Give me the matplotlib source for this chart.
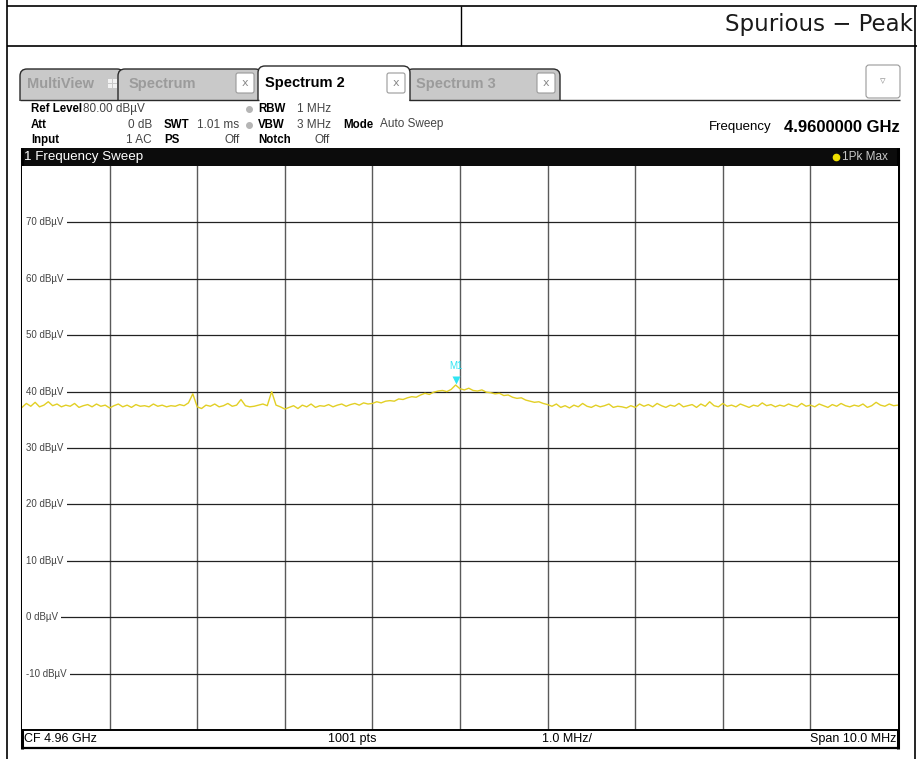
"""
Spurious - Peak: spectrum analyzer screenshot (Spectrum 2, 1 Frequency Sweep).
Trace values read off the screen capture, 0.05 MHz steps across the 10 MHz span.
"""
import numpy as np
import matplotlib
matplotlib.use("Agg")
import matplotlib.pyplot as plt
from matplotlib.patches import Rectangle, FancyBboxPatch

W, H = 917, 759

CF_GHZ = 4.96
SPAN_MHZ = 10.0
REF_LEVEL = 80
Y_BOTTOM = -20
Y_LABELS = [70, 60, 50, 40, 30, 20, 10, 0, -10]

# trace level in dBuV, one row per 1 MHz division (20 points each), plus final point
TRACE_DB = [
    37.2, 37.9, 37.4, 38.1, 37.3, 37.6, 38.2, 37.5, 37.8, 37.3, 37.6, 37.4, 37.9, 37.2, 37.5, 37.7, 37.3, 37.8, 37.4, 37.6,
    37.1, 37.5, 37.8, 37.3, 37.6, 37.2, 37.7, 37.4, 37.5, 37.3, 37.8, 37.4, 37.6, 37.3, 37.5, 37.4, 37.7, 37.5, 38.0, 39.6,
    37.3, 37.0, 37.6, 37.4, 37.8, 37.3, 37.5, 37.9, 37.4, 37.6, 38.6, 37.5, 37.3, 37.4, 37.6, 37.8, 37.5, 40.0, 37.6, 37.3,
    36.9, 37.2, 37.5, 37.0, 37.6, 37.3, 37.8, 37.2, 37.5, 37.4, 37.7, 37.3, 37.6, 37.8, 37.4, 37.7, 37.9, 37.6, 38.0, 37.8,
    37.9, 38.2, 38.0, 38.3, 38.4, 38.3, 38.7, 38.6, 38.9, 39.1, 39.0, 39.4, 39.7, 39.5, 39.9, 40.1, 40.2, 40.0, 40.4, 41.17,
    40.5, 40.3, 40.6, 40.2, 40.1, 40.3, 39.9, 39.8, 39.6, 39.7, 39.3, 39.4, 39.0, 38.8, 38.9, 38.5, 38.3, 38.1, 38.2, 37.9,
    37.7, 37.4, 37.8, 37.2, 37.5, 37.1, 37.6, 37.3, 37.9, 37.4, 37.2, 37.6, 37.3, 37.5, 37.8, 37.2, 37.4, 37.3, 37.1, 37.5,
    37.2, 37.8, 37.4, 37.7, 37.3, 37.9, 37.5, 37.2, 37.6, 37.4, 37.9, 37.3, 37.5, 37.7, 37.2, 37.8, 37.4, 38.2, 37.5, 37.3,
    37.9, 37.4, 37.6, 37.3, 37.8, 37.5, 37.2, 37.6, 37.4, 38.0, 37.5, 37.7, 37.3, 37.6, 37.4, 37.8, 37.5, 37.3, 37.9, 37.4,
    37.6, 37.3, 37.8, 37.5, 37.2, 37.7, 37.4, 37.9, 37.5, 37.3, 37.6, 37.4, 37.8, 37.2, 37.5, 38.1, 37.6, 37.4, 37.8, 37.5,
    37.6,
]

MARKER_LABEL = "M1[1]"
MARKER_LEVEL = "41.17 dBµV"
MARKER_FREQ = "4.95993007 GHz"

FONT = "Liberation Sans"
CYAN = "#30e4f2"
YELLOW = "#e2cf25"

fig = plt.figure(figsize=(W / 100, H / 100), dpi=100)

# background axes in pixel coordinates
bg = fig.add_axes([0, 0, 1, 1])
bg.set_xlim(0, W)
bg.set_ylim(H, 0)
bg.axis("off")


def line(x0, y0, x1, y1, color="black", lw=1.0, z=2):
    bg.plot([x0, x1], [y0, y1], color=color, lw=lw, zorder=z, solid_capstyle="butt")


def txt(x, y, s, size=8.5, color="black", weight="normal", ha="left", z=6, **kw):
    bg.text(x, y, s, fontsize=size, color=color, fontweight=weight, ha=ha,
            va="center", family=FONT, zorder=z, **kw)


def label(x, y, s):
    txt(x, y, s, size=8.3, weight="bold", z=5)


def value(x, y, s, ha="left"):
    txt(x, y, s, size=8.5, color="#444444", ha=ha, z=5)


# page table frame
line(7, 0, 7, H, lw=1.2)
line(7, 6, W, 6, lw=1.2)
line(7, 46, W, 46, lw=1.2)
line(461, 6, 461, 46, lw=1.0)
line(915, 6, 915, H, lw=1.2)
bg.text(913, 25, "Spurious − Peak", fontsize=16.5, family="DejaVu Sans",
        ha="right", va="center", color="#1a1a1a")

# tabs
def tab(x0, x1, top, fill, z):
    bg.add_patch(FancyBboxPatch((x0, top), x1 - x0, 112 - top,
                                boxstyle="round,pad=0,rounding_size=7",
                                facecolor=fill, edgecolor="#2a2a2a", lw=1.0, zorder=z))


def close_box(x, z):
    bg.add_patch(FancyBboxPatch((x, 73), 18, 20, boxstyle="round,pad=0,rounding_size=2",
                                facecolor="white", edgecolor="#9a9a9a", lw=0.8, zorder=z))
    bg.text(x + 9, 83.5, "x", fontsize=8, color="#8a8a8a", ha="center", va="center",
            family="DejaVu Sans", zorder=z + 0.1)


tab(20, 124, 69, "#c9c9c9", 3)
tab(118, 262, 69, "#c9c9c9", 3.2)
tab(406, 560, 69, "#c9c9c9", 3.2)
tab(258, 410, 66, "white", 3.6)
bg.add_patch(Rectangle((10, 100.5), 895, 47, facecolor="white", edgecolor="none", zorder=3.8))
line(20, 100, 259, 100, color="#2a2a2a", lw=1.0, z=3.9)
line(409, 100, 900, 100, color="#2a2a2a", lw=1.0, z=3.9)

txt(27, 84, "MultiView", size=10.5, color="#9b9b9b", weight="bold", z=4)
for dx in (0, 5):
    for dy in (0, 5):
        bg.add_patch(Rectangle((108 + dx, 79 + dy), 3.5, 3.5, facecolor="#f2f2f2",
                               edgecolor="none", zorder=4))
txt(129, 84, "Spectrum", size=10.5, color="#9b9b9b", weight="bold", z=4)
close_box(236, 4)
txt(265, 83, "Spectrum 2", size=10.5, color="black", weight="bold", z=4)
close_box(387, 4)
txt(416, 84, "Spectrum 3", size=10.5, color="#9b9b9b", weight="bold", z=4)
close_box(537, 4)

bg.add_patch(FancyBboxPatch((866, 65), 34, 33, boxstyle="round,pad=0,rounding_size=3",
                            facecolor="white", edgecolor="#9a9a9a", lw=0.8, zorder=4))
bg.text(883, 81, "▿", fontsize=8, color="#9a9a9a", ha="center", va="center",
        family="DejaVu Sans", zorder=4.1)

# settings panel
ROW1, ROW2, ROW3 = 109, 124.5, 140
label(31, ROW1, "Ref Level")
value(83, ROW1, f"{REF_LEVEL:.2f} dBµV")
label(31, ROW2, "Att")
value(152, ROW2, "0 dB", ha="right")
label(31, ROW3, "Input")
value(152, ROW3, "1 AC", ha="right")
label(164, ROW2, "SWT")
value(197, ROW2, "1.01 ms")
label(164, ROW3, "PS")
value(240, ROW3, "Off", ha="right")
for yy in (ROW1, ROW2):
    bg.plot(249, yy, "o", ms=4, color="#b5b5b5", zorder=5)
label(258, ROW1, "RBW")
value(297, ROW1, "1 MHz")
label(258, ROW2, "VBW")
value(297, ROW2, "3 MHz")
label(258, ROW3, "Notch")
value(330, ROW3, "Off", ha="right")
label(343, ROW2, "Mode")
value(380, ROW2, "Auto Sweep")
txt(772, 127, "Frequency", size=9.5, ha="right", z=5)
txt(900, 127, "4.9600000 GHz", size=12, weight="bold", ha="right", z=5)

# window title bar
bg.add_patch(Rectangle((21, 148), 879, 18, facecolor="#0c0c0c", edgecolor="none", zorder=5))
txt(24, 157, "1 Frequency Sweep", size=9.6, color="white", z=6)
bg.plot(836, 157, "o", ms=4.5, color="#f0e000", zorder=6)
txt(888, 157, "1Pk Max", size=8.5, color="#c8c8c8", ha="right", z=6)

# status bar
line(22, 748, 898, 748, lw=1.6, z=5)
txt(24, 739, f"CF {CF_GHZ:.2f} GHz", size=9, z=5)
txt(352, 739, "1001 pts", size=9, ha="center", z=5)
txt(542, 739, f"{SPAN_MHZ / 10:.1f} MHz/", size=9, z=5)
txt(896, 739, f"Span {SPAN_MHZ:.1f} MHz", size=9, ha="right", z=5)
line(22, 148, 22, 749, lw=2.2, z=6)
line(898, 148, 898, 749, lw=2.2, z=6)

# plot area
left, right, top, bottom = 22, 898, 166, 730
ax = fig.add_axes([left / W, 1 - bottom / H, (right - left) / W, (bottom - top) / H])
ax.set_facecolor("white")
f0 = CF_GHZ - SPAN_MHZ / 2000
f1 = CF_GHZ + SPAN_MHZ / 2000
freqs = np.linspace(f0, f1, len(TRACE_DB))
ax.set_xlim(f0, f1)
ax.set_ylim(Y_BOTTOM, REF_LEVEL)
for spine in ax.spines.values():
    spine.set_visible(False)
ax.spines["bottom"].set_visible(True)
ax.spines["bottom"].set_linewidth(1.4)
ax.set_xticks([])
ax.set_yticks([])

for k in range(1, 10):
    ax.axvline(f0 + k * (f1 - f0) / 10, color="#5a5a5a", lw=1.0, zorder=1)
for lvl in Y_LABELS:
    ax.axhline(lvl, color="#222222", lw=0.9, zorder=1)
    ax.text(0.0045, lvl, f"{lvl} dBµV", transform=ax.get_yaxis_transform(),
            fontsize=7, color="#444444", va="center", ha="left", family=FONT,
            zorder=2, bbox=dict(facecolor="white", edgecolor="none", pad=2.5))

ax.plot(freqs, TRACE_DB, color=YELLOW, lw=1.0, zorder=3)

# marker M1 at trace maximum
imax = int(np.argmax(TRACE_DB))
ax.plot(freqs[imax], TRACE_DB[imax] + 0.9, marker="v", ms=6, color=CYAN,
        markeredgecolor="none", zorder=4)
ax.text(freqs[imax], TRACE_DB[imax] + 3.3, "M1", fontsize=7, color=CYAN,
        ha="center", va="center", family=FONT, zorder=4)

txt(797, 177, MARKER_LABEL, size=8.5, color=CYAN, ha="right", z=7)
txt(897, 177, MARKER_LEVEL, size=8.5, color=CYAN, ha="right", z=7)
txt(897, 196, MARKER_FREQ, size=8.5, color=CYAN, ha="right", z=7)

fig.savefig("out.png", dpi=100)
